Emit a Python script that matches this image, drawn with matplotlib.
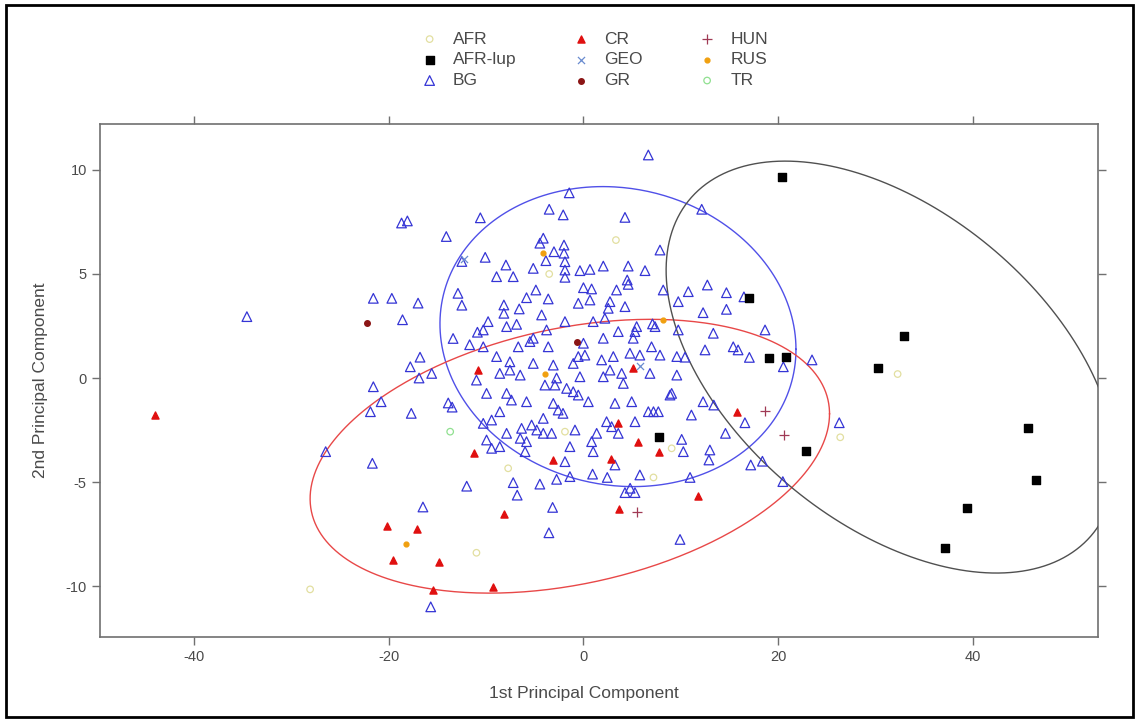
import numpy as np
import matplotlib
matplotlib.use("Agg")
import matplotlib.pyplot as plt
from matplotlib.patches import Rectangle

plt.rcParams['font.family'] = ['Liberation Sans', 'DejaVu Sans']
plt.rcParams['axes.unicode_minus'] = False

# ---- data: (1st PC, 2nd PC) per group ----
bg_x = [-18.7, -18.1, -14.1, -10.6, -34.6, -21.6, -19.7, -17.0, -18.6, -12.9, -12.5, -13.4, -11.7, -10.9,
        -16.8, -17.8, -15.6, -16.9, -21.6, -12.5,
        -20.8, -21.9, -17.7, -13.9, -13.5, -26.5, -21.7, -12.0, -16.5, -15.7,
        16.6, 14.6, 17.2, 18.4, 20.5, 13.0, 12.9, 11.1, 12.3, 13.4, 9.07, 9.93, -3.17, -3.55, -6.81, -7.22,
        -4.48, 4.27, 5.3, 4.8, 10.96, 5.8, 2.45, 0.94, -1.39, -2.76,
        -1.46, -3.52, -2.08, 4.27, 12.16, -10.1, -4.13, -4.48, -3.03, -2.0, -2.0, -3.86, -1.9, -1.9, -1.9,
        -7.97, -8.93, -7.22, -5.16, -0.36, 0.67, 2.04, 4.6, 6.33, 7.87, 4.5, 4.6,
        6.67, 8.2, 10.78, 12.74, 14.7, 14.7, 16.5, 12.3, 9.75, 13.35, 18.67, 20.55, 17.06, 15.4, 15.9, 12.5,
        9.6, 10.44, 9.6, 9.75,
        -8.18, -8.18, -6.6, -5.85, -4.89, -3.62, -4.3, -9.8, -10.3, -7.9, -6.87, -3.79, -1.9, 1.0, 2.2,
        -0.53, 0.67, 2.73, 2.55, 4.27, 3.4, 0.0, 0.84, 3.58, 5.47, 5.3, 7.36, 7.1, 2.04, 5.12, 7.0, 7.87,
        0.0, -5.16, -5.5, -6.7, -3.62, -8.93, -7.56, -5.16, -3.1, -0.53, 0.15, -1.05, 1.87, 3.07, 4.78, 5.8,
        2.73, 6.84, -10.3, -8.6, -7.56, -6.5, -2.76, -0.36, 2.04, 3.93, -11.0,
        -9.96, -7.9, -7.4, -5.85, -3.96, -2.93, -1.73, -1.05, -0.53, 0.5, 3.24, 4.96, 4.1, 8.9, 6.67, 7.2,
        7.7, -8.6, -3.1, -2.6, -2.1, -4.13, -10.3, -9.44, -9.96, -9.44, -8.6, -7.9, -6.36, -5.33, -4.8,
        -4.13, -3.27, -6.5, -5.85, -6.0, -0.87, -1.39, 0.84, 1.36, 1.0, 2.38, 2.9, 3.58, 5.3, 10.1, 10.27,
        -1.9, 3.24,
        23.5, 26.3]
bg_y = [7.45, 7.55, 6.8, 7.7, 2.95, 3.83, 3.83, 3.6, 2.8, 4.07, 3.5, 1.9, 1.6, 2.2,
        1.0, 0.54, 0.22, 0.0, -0.42, 5.6,
        -1.14, -1.62, -1.7, -1.2, -1.4, -3.54, -4.1, -5.2, -6.2, -11.0,
        -2.15, -2.66, -4.18, -4.0, -4.98, -3.46, -3.94, -1.78, -1.14, -1.3, -0.74, -7.76, -6.22, -7.44,
        -5.63, -5.03, -5.1, -5.51, -5.51, -5.3, -4.78, -4.66, -4.78, -4.62, -4.74, -4.87,
        8.9, 8.11, 7.84, 7.72, 8.11, 5.8, 6.72, 6.48, 6.07, 6.39, 6.0, 5.64, 5.59, 5.19, 4.84,
        5.43, 4.87, 4.87, 5.27, 5.16, 5.22, 5.38, 5.38, 5.16, 6.15, 4.71, 4.5,
        10.72, 4.23, 4.15, 4.47, 4.1, 3.3, 3.9, 3.14, 3.67, 2.15, 2.31, 0.54, 0.99, 1.5, 1.35, 1.35,
        1.03, 1.0, 0.14, 2.31,
        3.51, 3.11, 3.32, 3.86, 4.23, 3.8, 3.03, 2.71, 2.31, 2.47, 2.58, 2.31, 2.71, 2.71, 2.87,
        3.59, 3.75, 3.67, 3.35, 3.43, 4.23, 4.34, 4.28, 2.23, 2.47, 2.23, 2.47, 2.6, 1.91, 1.91, 1.5, 1.1,
        1.67, 1.91, 1.75, 1.5, 1.5, 1.03, 0.78, 0.7, 0.62, 1.03, 1.1, 0.7, 0.87, 1.03, 1.19, 1.1,
        0.38, 0.22, 1.5, 0.22, 0.38, 0.14, 0.0, 0.06, 0.06, 0.22, -0.1,
        -0.74, -0.74, -1.06, -1.14, -0.34, -0.34, -0.5, -0.66, -0.82, -1.14, -1.22, -1.14, -0.26, -0.82,
        -1.62, -1.62, -1.62, -1.62, -1.22, -1.54, -1.7, -1.94, -2.18, -2.02, -2.98, -3.38, -3.3, -2.66,
        -2.42, -2.26, -2.5, -2.66, -2.66, -2.9, -3.06, -3.54, -2.5, -3.3, -3.06, -2.66, -3.54, -2.1, -2.34,
        -2.66, -2.1, -2.95, -3.54, -4.02, -4.18,
        0.87, -2.15]

cr_x = [-10.8, -44.0, -11.3, -20.2, -17.1, -19.6, -14.8, -15.5, 15.8, 11.75, 3.65, -8.18, -9.34,
        5.12, 3.52, 5.64, 7.8, -3.17, 2.83]
cr_y = [0.38, -1.78, -3.62, -7.1, -7.26, -8.75, -8.86, -10.2, -1.62, -5.67, -6.31, -6.55, -10.06,
        0.47, -2.15, -3.06, -3.54, -3.94, -3.89]

lup_x = [20.45, 17.06, 19.1, 20.8, 7.8, 32.97, 30.27, 22.9, 45.66, 46.55, 39.4, 37.2]
lup_y = [9.68, 3.83, 0.95, 1.03, -2.85, 2.02, 0.47, -3.51, -2.39, -4.9, -6.27, -8.16]

afr_x = [-11.0, -28.1, 3.34, -3.52, -7.74, 7.2, -1.9, 9.07, 32.3, 26.4]
afr_y = [-8.4, -10.16, 6.63, 5.0, -4.34, -4.78, -2.58, -3.38, 0.19, -2.85]

gr_x = [-22.3, -0.7]
gr_y = [2.66, 1.71]
hun_x = [18.7, 20.6, 5.47]
hun_y = [-1.59, -2.74, -6.43]
rus_x = [-4.2, 8.2, -3.96, -18.2]
rus_y = [6.02, 2.79, 0.18, -7.98]
geo_x = [-12.3, 5.8]
geo_y = [5.7, 0.6]
tr_x = [-13.7]
tr_y = [-2.58]

# ellipses: centre x, centre y, half-range x, half-range y, cos of phase
ell_bg = [3.55, 1.99, 18.3, 7.21, -0.085]
ell_cr = [-1.4, -3.76, 26.7, 6.58, 0.31]
ell_lup = [31.6, 0.525, 23.1, 9.9, -0.47]

grey = '#4a4a4a'
fig = plt.figure(figsize=(11.39, 7.22), dpi=100)
ax = fig.add_axes([0.0878, 0.1177, 0.8762, 0.7103])


def ellipse(ax, p, color):
    t = np.linspace(0, 2 * np.pi, 400)
    phi = np.arccos(p[4])
    ax.plot(p[0] + p[2] * np.cos(t), p[1] + p[3] * np.cos(t + phi), color=color, lw=1.0, zorder=3)


ax.scatter(afr_x, afr_y, s=22, marker='o', facecolors='none', edgecolors='#e2dfa0', linewidths=0.9, label='AFR', zorder=4)
ax.scatter(lup_x, lup_y, s=26, marker='s', color='black', label='AFR-lup', zorder=5)
ax.scatter(bg_x, bg_y, s=48, marker='^', facecolors='none', edgecolors='#3535d5', linewidths=0.9, label='BG', zorder=4)
ax.scatter(cr_x, cr_y, s=26, marker='^', color='#e01010', label='CR', zorder=5)
ax.scatter(geo_x, geo_y, s=26, marker='x', color='#6a8cd0', linewidths=0.9, label='GEO', zorder=5)
ax.scatter(gr_x, gr_y, s=16, marker='o', color='#8b1515', label='GR', zorder=5)
ax.scatter(hun_x, hun_y, s=50, marker='+', color='#a03a55', linewidths=0.9, label='HUN', zorder=5)
ax.scatter(rus_x, rus_y, s=12, marker='o', color='#f0a010', label='RUS', zorder=5)
ax.scatter(tr_x, tr_y, s=22, marker='o', facecolors='none', edgecolors='#90e090', linewidths=0.9, label='TR', zorder=5)

ellipse(ax, ell_bg, '#5050e8')
ellipse(ax, ell_cr, '#e84848')
ellipse(ax, ell_lup, '#505050')

ax.set_xlim(-49.7, 52.9)
ax.set_ylim(-12.45, 12.2)
ax.set_xticks([-40, -20, 0, 20, 40])
ax.set_yticks([-10, -5, 0, 5, 10])
ax.tick_params(direction='out', length=6, width=1, color='#707070', labelcolor=grey, labelsize=10.5,
               top=True, right=True, labeltop=False, labelright=False)
for sp in ax.spines.values():
    sp.set_color('#707070')
    sp.set_linewidth(1.2)
ax.set_xlabel('1st Principal Component', fontsize=12.5, color=grey)
ax.set_ylabel('2nd Principal Component', fontsize=12.5, color=grey)
ax.xaxis.set_label_coords(0.485, -0.095)
ax.yaxis.set_label_coords(-0.052, 0.5)

fig.legend(loc='upper center', bbox_to_anchor=(0.522, 0.978), ncol=3, frameon=False, fontsize=12.5,
           handlelength=1.0, handletextpad=0.85, columnspacing=3.2, labelspacing=0.32,
           labelcolor=grey, scatterpoints=1)

fig.add_artist(Rectangle((0.005, 0.007), 0.99, 0.986, transform=fig.transFigure, fill=False,
                         edgecolor='black', linewidth=2))

fig.savefig('out.png', dpi=100)
